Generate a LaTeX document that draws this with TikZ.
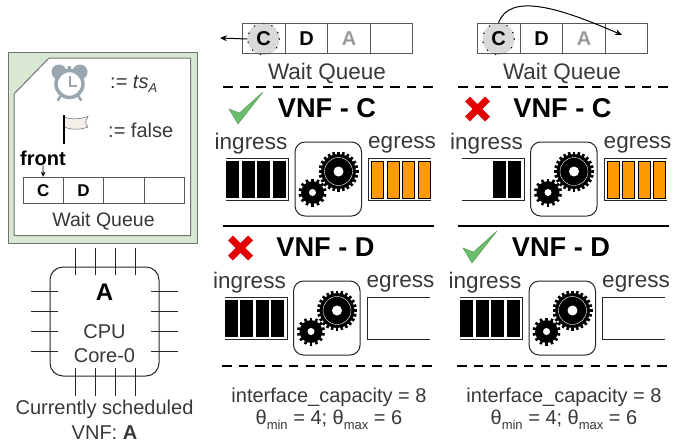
\documentclass[tikz,border=0pt]{standalone}
\usepackage{fontspec}
\setmainfont{Liberation Sans}
\usetikzlibrary{arrows.meta}
\definecolor{boxgreen}{HTML}{D9E8D3}
\definecolor{clockgray}{HTML}{9AA6AE}
\definecolor{barorange}{HTML}{FF9A00}
\definecolor{flagcream}{HTML}{F5EFE9}
\definecolor{checkgreen}{HTML}{6BBE6B}

\tikzstyle{plain text} = [inner sep=0pt,text=black!78,font=\fontsize{20}{22}\selectfont]
\tikzstyle{big text} = [inner sep=0pt,text=black!78,font=\fontsize{22.5}{24}\selectfont]
\tikzstyle{title text} = [inner sep=0pt,text=black,font=\fontsize{27.2}{28}\selectfont\bfseries]
\tikzstyle{cell} = [draw=black!65,line width=0.9pt,minimum height=30pt,inner sep=0pt,font=\fontsize{20}{22}\selectfont\bfseries]
\tikzstyle{smallcell} = [draw=black!65,line width=0.9pt,minimum width=40.3pt,minimum height=26.5pt,inner sep=0pt,font=\fontsize{17}{19}\selectfont\bfseries]
\tikzstyle{popped} = [circle,fill=black!15,minimum size=32pt,inner sep=0pt]
\tikzstyle{dots} = [draw=black,line width=1.6pt,line cap=round,dash pattern=on 0pt off 9.2pt]
\tikzstyle{arrowdecorate} = [->,>={Stealth[length=7pt,width=6pt]},line width=1pt]
\tikzstyle{heavy rule} = [draw,line width=2pt]
\tikzstyle{dash rule} = [draw,line width=2pt,dash pattern=on 9.5pt off 7.2pt]
\tikzstyle{pin} = [draw=black!85,line width=0.8pt]
\tikzstyle{frame} = [draw=black!85,line width=1pt]
\tikzstyle{ingress bar} = [fill=black]
\tikzstyle{egress bar} = [fill=barorange,draw=black,line width=0.9pt]

% one gear: x, y, radius, teeth
\newcommand{\gearwheel}[4]{
  \begin{scope}[shift={(#1,#2)}]
    \foreach \i in {1,...,#4}
      \fill[rotate=360*\i/#4] (-1.3,-#3) rectangle (1.3,0);
    \fill (0,0) circle ({#3-2.6});
    \fill[white] (0,0) circle ({#3*0.25});
  \end{scope}
}
\newcommand{\okmark}{
  \draw[fill=checkgreen,draw=checkgreen!80!black,line width=0.5pt]
    (229,109) -- (239.5,113) -- (263,92) -- (238,124) -- cycle;
}
\newcommand{\badmark}{
  \draw[red!90!black,line width=7pt] (232,99) -- (252,119) (252,99) -- (232,119);
}
\newcommand{\lowtext}[1]{\raisebox{-4.5pt}{\fontsize{13}{14}\selectfont #1}}

\begin{document}
\begin{tikzpicture}[x=1pt,y=-1pt]
  \useasboundingbox (0,0) rectangle (674,447);

  %state box
  \draw[fill=boxgreen,draw=black!55,line width=1pt] (8,52) rectangle (197.5,243);
  \draw[fill=white,draw=black!55,line width=1pt] (14,94) -- (49,58) -- (190.5,58) -- (190.5,235.5) -- (14,235.5) -- cycle;

  %clock
  \fill[clockgray] (59,72) circle (7.5) (80,72) circle (7.5) (67.5,66) rectangle (71,70);
  \draw[clockgray,line width=2.5pt,line cap=round] (61.5,95) -- (58,100) (77.5,95) -- (81,100);
  \draw[clockgray,line width=3.5pt,fill=white] (69.5,84) circle (13.5);
  \draw[clockgray,line width=2pt] (69.5,76) -- (69.5,85.5) -- (77,85.5);
  \node[plain text,anchor=west] (tsnode) at (110,84) {:= \textit{ts}\lowtext{\textit{A}}};

  %flag
  \draw[fill=flagcream,draw=black!60,line width=0.5pt] (64,117) .. controls (72,120) and (80,119) .. (88,116.5)
    .. controls (85,121) and (85,124) .. (88,127) .. controls (80,130) and (72,130) .. (64,127) -- cycle;
  \draw[line width=2pt] (63.5,115) -- (63.5,144);
  \node[plain text,anchor=west] (flagnode) at (108,130) {:= false};

  %queue in the box
  \foreach \nodename/\x/\cellvalue in {qa/43.2/C, qb/83.5/D, qc/123.8/{}, qd/164.1/{}}
  {
    \node[smallcell] (\nodename) at (\x,190.5) {\cellvalue};
  };
  \node[inner sep=0pt,font=\fontsize{20}{22}\selectfont\bfseries] (front) at (43,158) {front};
  \draw[->,>={Stealth[length=5pt,width=4.5pt]},line width=0.8pt] (front.south) -- (qa.north);
  \node[plain text,font=\fontsize{19.5}{21}\selectfont] (boxqueue) at (103.5,221) {Wait Queue};

  %cpu
  \node[draw=black!85,line width=1pt,rounded corners=13pt,minimum width=109pt,minimum height=109pt] (cpu) at (104.5,321.5) {};
  \foreach \x in {75,95,115,135}
  {
    \draw[pin] (\x,248) -- (\x,275);
    \draw[pin] (\x,368) -- (\x,396);
  };
  \foreach \y in {291,311,331,351}
  {
    \draw[pin] (31,\y) -- (58,\y);
    \draw[pin] (151,\y) -- (178,\y);
  };
  \node[inner sep=0pt,font=\fontsize{24}{26}\selectfont\bfseries] (vnfa) at (104.5,292) {A};
  \node[plain text] (cpuname) at (104.5,332) {CPU};
  \node[plain text] (corename) at (104.5,356) {Core-0};
  \node[plain text] (current) at (104.5,409) {Currently scheduled};
  \node[plain text] (currentvnf) at (104.5,433) {VNF: \textbf{A}};

  %queues on top
  \foreach \col/\dx in {a/0, b/235}
  {
    \begin{scope}[xshift=\dx]
      \node[popped] (popped\col) at (263.5,39) {};
      \draw[dots] (263.5,39) circle (15.7);
      \foreach \nodename/\x/\cellvalue/\cellcolor in {c/263.5/C/black, d/306.5/D/black, e/349/A/black!40, f/391.5/{}/black}
      {
        \node[cell,minimum width=\ifdim\x pt<300pt 43pt\else 42.7pt\fi,text=\cellcolor] (\nodename\col) at (\x,38.5) {\cellvalue};
      };
      \node[big text] (waitqueue\col) at (327,73) {Wait Queue};
      \path[dash rule] (223,87) -- (435,87);
      \path[heavy rule] (223,226) -- (434,226);
      \path[dash rule] (222,366) -- (434,366);
      \node[plain text] (capacity\col) at (329,397.5) {interface\_capacity = 8};
      \node[plain text] (theta\col) at (329,420) {θ\lowtext{min} = 4; θ\lowtext{max} = 6};
    \end{scope}
  };
  \coordinate (popleft) at (220,38);
  \coordinate (moveright) at (622,35);
  \draw[arrowdecorate] (poppeda.west) -- (popleft);
  \draw[arrowdecorate] (poppedb.north) .. controls (510,-8) and (560,8) .. (moveright);

  %vnf panels
  \foreach \panel/\dx/\dy/\vnfname/\verdict/\ifirst/\efull in {
    pa/0/0/C/\okmark/0/1,
    pb/235.5/0/C/\badmark/2/1,
    pc/-1.5/139/D/\badmark/0/0,
    pd/234/139/D/\okmark/0/0}
  {
    \begin{scope}[xshift=\dx,yshift=-\dy]
      \verdict
      \node[title text] (title\panel) at (327,108.5) {VNF - \vnfname};
      \node[big text] (ingress\panel) at (251,144) {ingress};
      \node[big text] (egress\panel) at (402,145) {egress};
      %interfaces
      \draw[frame] (226,158.5) -- (288.5,158.5) -- (288.5,200) -- (226,200);
      \draw[frame] (431,158.5) -- (368.5,158.5) -- (368.5,200) -- (431,200);
      \foreach \i in {\ifirst,...,3}
      {
        \path[ingress bar] ({226+15.5*\i},160.5) rectangle ++(13.3,37.5);
      };
      \ifnum\efull=1
        \foreach \i in {0,1,2,3}
        {
          \path[egress bar] ({371.7+15.5*\i},161) rectangle ++(12.2,37);
        };
      \fi
      %cores
      \node[draw=black!85,line width=1pt,rounded corners=10pt,minimum width=66.5pt,minimum height=74pt] (gearbox\panel) at (328.3,179) {};
      \gearwheel{338.5}{171.5}{20}{24}
      \draw[white,line width=0.4pt] (338.5,171.5) circle (14);
      \gearwheel{312.5}{192.5}{14}{14}
    \end{scope}
  };
\end{tikzpicture}
\end{document}
